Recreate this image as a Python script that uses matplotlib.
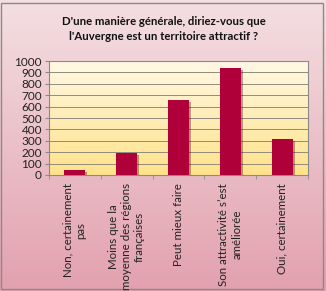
import numpy as np
import matplotlib.pyplot as plt
import matplotlib.patheffects as pe
from matplotlib.colors import LinearSegmentedColormap
from matplotlib.ticker import FixedLocator

# data
categories = ['Non, certainement\npas',
              'Moins que la\nmoyenne des régions\nfrançaises',
              'Peut mieux faire',
              'Son attractivité s\u2019est\naméliorée',
              'Oui, certainement']
values = [40, 195, 660, 940, 315]
yticks = list(range(0, 1001, 100))
title = "D'une manière générale, diriez-vous que\nl'Auvergne est un territoire attractif ?"

plt.rcParams['font.family'] = ['Lato', 'DejaVu Sans']

fig = plt.figure(figsize=(3.26, 2.91), dpi=100)

#pink gradient background + frame
grad = np.linspace(0, 1, 256).reshape(-1, 1)
bg = fig.add_axes([0, 0, 1, 1], zorder=-10)
pink = LinearSegmentedColormap.from_list('pink', ['#F4DFE2', '#E2A1AE'])
bg.imshow(grad, aspect='auto', cmap=pink, extent=[0, 1, 0, 1], origin='upper')
bg.set_xlim(0, 1)
bg.set_ylim(0, 1)
bg.axis('off')
bg.add_patch(plt.Rectangle((0.004, 0.006), 0.987, 0.985, transform=bg.transAxes,
                           fill=False, ec='#8a8a8a', lw=1))

#plot area
ax = fig.add_axes([0.150, 0.399, 0.795, 0.391])
yellow = LinearSegmentedColormap.from_list('yellow', ['#FFF8E4', '#FFE28A'])
n = len(categories)
ax.imshow(grad, aspect='auto', cmap=yellow, extent=[-0.5, n - 0.5, 0, 1000],
          origin='upper', zorder=-1)

ax.bar(range(n), values, width=0.4, color='#B0003A', zorder=3,
       path_effects=[pe.SimplePatchShadow(offset=(1.5, -1.5), alpha=0.35), pe.Normal()])

ax.set_xlim(-0.5, n - 0.5)
ax.set_ylim(0, 1000)
ax.set_yticks(yticks)
ax.yaxis.grid(True, color='#8f8c7a', lw=0.7)
ax.set_axisbelow(True)

ax.set_xticks(range(n))
ax.set_xticklabels(categories, rotation=90, va='top', ha='center',
                   multialignment='center', fontsize=8.3, color='#222222',
                   linespacing=1.2)
ax.xaxis.set_minor_locator(FixedLocator(np.arange(-0.5, n, 1.0)))
ax.tick_params(axis='x', which='major', length=0, pad=6)
ax.tick_params(axis='x', which='minor', length=3, color='#8a8a8a')
ax.tick_params(axis='y', length=3, color='#8a8a8a', labelsize=8.5,
               labelcolor='#222222', pad=2)
for s in ax.spines.values():
    s.set_color('#8a8a8a')
    s.set_linewidth(0.8)

fig.text(0.503, 1 - 29 / 291, title, ha='center', va='center', fontsize=8.2,
         fontweight='bold', color='#111111', linespacing=1.45)

fig.savefig('out.png', dpi=100)
